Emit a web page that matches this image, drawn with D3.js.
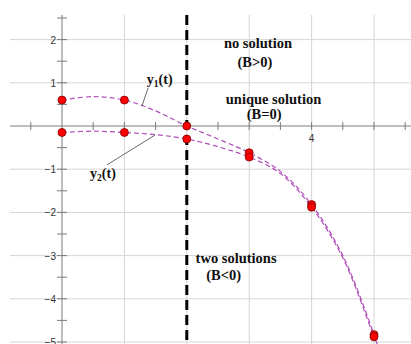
<!DOCTYPE html>
<html>
<head>
<meta charset="utf-8">
<script src="https://cdn.jsdelivr.net/npm/d3@7"></script>
<style>
  body { margin: 0; background: #fff; }
  svg { display: block; }
  .tick-lbl { font-family: "Liberation Sans", Arial, sans-serif; font-size: 10px; fill: #333; }
  .note { font-family: "Liberation Serif", "Times New Roman", serif; font-size: 14.5px; font-weight: bold; fill: #111; }
  .curve-lbl { font-family: "Liberation Serif", "Times New Roman", serif; font-size: 14px; font-weight: bold; fill: #111; }
</style>
</head>
<body>
<svg id="chart"></svg>
<script>
// ── data ─────────────────────────────────────────────
const tPts = [0, 1, 2, 3, 4, 5];
const y1Pts = [0.6, 0.6, 0.0, -0.62, -1.82, -4.83];
const y2Pts = [-0.15, -0.15, -0.3, -0.72, -1.88, -4.88];

// dashed curves
const tCurve = [0, 0.5, 1, 1.5, 2, 2.5, 3, 3.5, 4, 4.5, 5, 5.05];
const y1Curve = [0.6, 0.68, 0.6, 0.35, 0.0, -0.3, -0.62, -1.05, -1.82, -3.0, -4.83, -5.05];
const y2Curve = [-0.15, -0.12, -0.15, -0.2, -0.3, -0.48, -0.72, -1.1, -1.88, -3.05, -4.88, -5.05];

const yTickVals = [2, 1, -1, -2, -3, -4, -5];
const yTickLbls = ['2', '1', '\u22121', '\u22122', '\u22123', '\u22124', '\u22125'];
const xGridVals = [1, 2, 3, 4, 5];
const xTickLbls = [[4, '4']];
const boundaryT = 2;

const notes = [
  { t: 3.14, y: 1.8, text: 'no solution' },
  { t: 3.09, y: 1.36, text: '(B>0)' },
  { t: 3.39, y: 0.52, text: 'unique solution' },
  { t: 3.24, y: 0.17, text: '(B=0)' },
  { t: 2.79, y: -3.17, text: 'two solutions' },
  { t: 2.59, y: -3.56, text: '(B<0)' }
];
const curveLabels = [
  { sub: '1', t: 1.36, y: 0.97, from: [1.38, 0.88], to: [1.28, 0.46] },
  { sub: '2', t: 0.45, y: -1.2, from: [0.72, -0.9], to: [1.49, -0.21] }
];

// ── layout ───────────────────────────────────────────
const width = 411, height = 344;
const svg = d3.select('#chart').attr('width', width).attr('height', height);

const x = d3.scaleLinear().domain([0, 5]).range([62, 374]);
const y = d3.scaleLinear().domain([0, -5]).range([126, 342]);
const tMin = x.invert(10), tMax = x.invert(width);
const yTop = y.invert(15), yBot = y.invert(height);

// grid
svg.append('g').selectAll('line')
  .data(yTickVals).enter().append('line')
  .attr('x1', x(tMin)).attr('x2', x(tMax))
  .attr('y1', d => y(d)).attr('y2', d => y(d))
  .attr('stroke', '#d6d6d6').attr('stroke-width', 1);
svg.append('g').selectAll('line')
  .data(xGridVals).enter().append('line')
  .attr('x1', d => x(d)).attr('x2', d => x(d))
  .attr('y1', y(yTop)).attr('y2', y(yBot))
  .attr('stroke', '#d6d6d6').attr('stroke-width', 1);

// axes
const axisCol = '#7a7a7a';
svg.append('line')
  .attr('x1', x(tMin)).attr('x2', x(tMax)).attr('y1', y(0)).attr('y2', y(0))
  .attr('stroke', axisCol);
svg.append('line')
  .attr('x1', x(0)).attr('x2', x(0)).attr('y1', y(yTop)).attr('y2', y(yBot))
  .attr('stroke', axisCol);

const xTicks = d3.range(-0.5, tMax, 0.5).filter(d => d !== 0);
svg.append('g').selectAll('line')
  .data(xTicks).enter().append('line')
  .attr('x1', d => x(d)).attr('x2', d => x(d))
  .attr('y1', y(0) - 4).attr('y2', y(0) + 4)
  .attr('stroke', axisCol);
const yTicks = d3.range(-5, yTop, 0.5).filter(d => d !== 0);
svg.append('g').selectAll('line')
  .data(yTicks).enter().append('line')
  .attr('x1', x(0) - 5).attr('x2', x(0) + 5)
  .attr('y1', d => y(d)).attr('y2', d => y(d))
  .attr('stroke', axisCol);

svg.append('g').selectAll('text')
  .data(yTickVals).enter().append('text')
  .attr('class', 'tick-lbl')
  .attr('x', x(0) - 6).attr('y', d => y(d) + 4)
  .attr('text-anchor', 'end')
  .text((d, i) => yTickLbls[i]);
svg.append('g').selectAll('text')
  .data(xTickLbls).enter().append('text')
  .attr('class', 'tick-lbl')
  .attr('x', d => x(d[0])).attr('y', y(0) + 16)
  .attr('text-anchor', 'middle')
  .text(d => d[1]);

// boundary t = 2
svg.append('line')
  .attr('x1', x(boundaryT)).attr('x2', x(boundaryT))
  .attr('y1', y(yTop)).attr('y2', y(yBot))
  .attr('stroke', '#000').attr('stroke-width', 3)
  .attr('stroke-dasharray', '10,5');

// curves
const line = d3.line()
  .x(d => x(d[0])).y(d => y(d[1]))
  .curve(d3.curveCatmullRom.alpha(0.5));
[y1Curve, y2Curve].forEach(vals => {
  svg.append('path')
    .datum(tCurve.map((t, i) => [t, vals[i]]))
    .attr('d', line)
    .attr('fill', 'none')
    .attr('stroke', '#b04cb8')
    .attr('stroke-width', 1.2)
    .attr('stroke-dasharray', '5,3');
});

// points
[y1Pts, y2Pts].forEach(vals => {
  svg.append('g').selectAll('circle')
    .data(tPts.map((t, i) => [t, vals[i]])).enter().append('circle')
    .attr('cx', d => x(d[0])).attr('cy', d => y(d[1]))
    .attr('r', 4)
    .attr('fill', '#ff0000')
    .attr('stroke', '#7a0000').attr('stroke-width', 0.8);
});

// curve labels with leaders
curveLabels.forEach(c => {
  svg.append('line')
    .attr('x1', x(c.from[0])).attr('y1', y(c.from[1]))
    .attr('x2', x(c.to[0])).attr('y2', y(c.to[1]))
    .attr('stroke', '#444').attr('stroke-width', 0.8);
  const tx = svg.append('text').attr('class', 'curve-lbl')
    .attr('x', x(c.t)).attr('y', y(c.y));
  tx.append('tspan').text('y');
  tx.append('tspan').attr('font-size', '9.5px').attr('dy', 3).text(c.sub);
  tx.append('tspan').attr('dy', -3).text('(t)');
});

// region notes
svg.append('g').selectAll('text')
  .data(notes).enter().append('text')
  .attr('class', 'note')
  .attr('x', d => x(d.t)).attr('y', d => y(d.y))
  .attr('text-anchor', 'middle')
  .text(d => d.text);
</script>
</body>
</html>
